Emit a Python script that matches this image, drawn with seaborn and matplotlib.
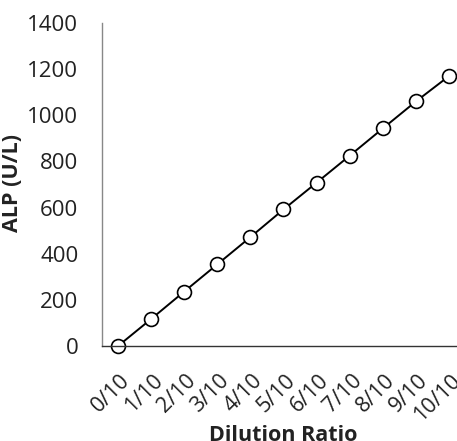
import matplotlib
matplotlib.use("Agg")
import matplotlib.pyplot as plt
import matplotlib.transforms as mtransforms
import seaborn as sns
import pandas as pd

ratios = ["0/10", "1/10", "2/10", "3/10", "4/10", "5/10",
          "6/10", "7/10", "8/10", "9/10", "10/10"]
alp = [0, 117, 236, 354, 472, 592, 708, 825, 943, 1060, 1170]
y_ticks = [0, 200, 400, 600, 800, 1000, 1200, 1400]

sns.set_style("white")
plt.rcParams["font.family"] = ["Open Sans", "DejaVu Sans"]

df = pd.DataFrame({"pos": range(len(ratios)), "alp": alp})

fig = plt.figure(figsize=(4.57, 4.41), dpi=100)
ax = fig.add_axes([0.223, 0.215, 0.777, 0.733])

sns.lineplot(data=df, x="pos", y="alp", ax=ax, color="black", linewidth=1.4,
             marker="o", markersize=10, markerfacecolor="white",
             markeredgecolor="black", markeredgewidth=1.2, clip_on=False)

ax.set_xlim(-0.48, 10.24)
ax.set_ylim(0, 1400)
ax.set_yticks(y_ticks)
ax.set_yticklabels([str(v) for v in y_ticks], fontsize=16, color="#222222")
ax.set_xticks(range(len(ratios)))
ax.set_xticklabels(ratios, rotation=45, ha="right", rotation_mode="anchor",
                   fontsize=15.5, color="#222222")
ax.tick_params(axis="y", length=0, pad=17)
ax.tick_params(axis="x", length=0, pad=17)

# nudge rotated labels a little to the right, like the original
shift = mtransforms.ScaledTranslation(1 / 72, 0, fig.dpi_scale_trans)
for lbl in ax.get_xticklabels():
    lbl.set_transform(lbl.get_transform() + shift)

for s in ["top", "right"]:
    ax.spines[s].set_visible(False)
ax.spines["left"].set_color("#888888")
ax.spines["bottom"].set_color("#333333")
ax.spines["left"].set_linewidth(1.0)
ax.spines["bottom"].set_linewidth(1.0)

ax.set_ylabel("ALP (U/L)", fontsize=15.5, fontweight="bold", color="#222222")
ax.set_xlabel("Dilution Ratio", fontsize=15.5, fontweight="bold", color="#222222")
ax.yaxis.set_label_coords(-0.222, 0.505)
ax.xaxis.set_label_coords(0.51, -0.245)

fig.savefig("out.png", dpi=100)
plt.close(fig)
